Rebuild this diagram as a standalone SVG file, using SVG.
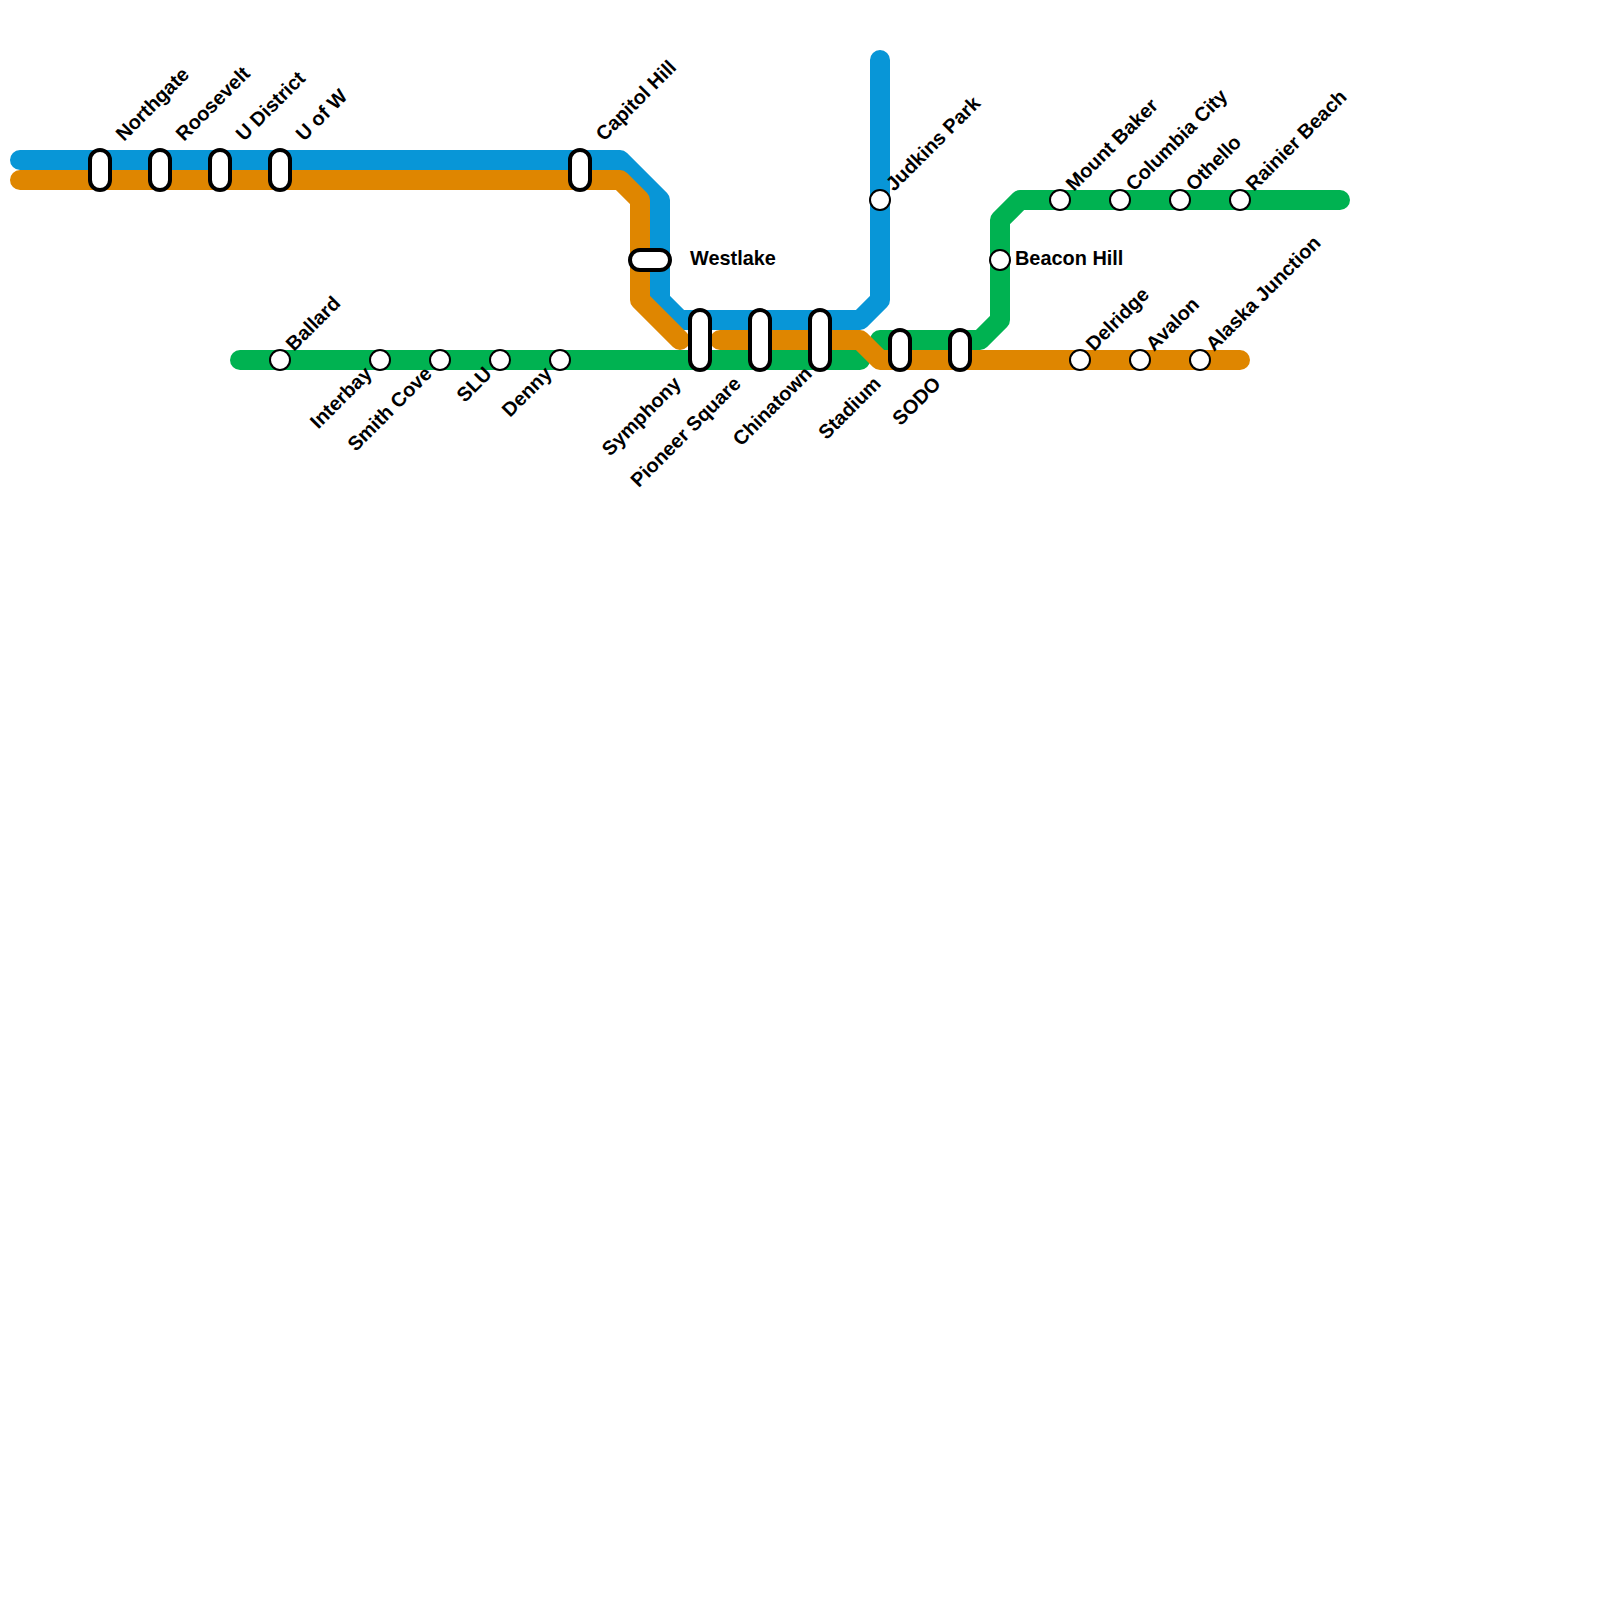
<svg xmlns="http://www.w3.org/2000/svg" width="1600" height="1600" viewBox="0 0 1600 1600">
<style>
.l{fill:none;stroke-width:20;stroke-linecap:round;stroke-linejoin:round}
.b{stroke:#0896d7}.o{stroke:#df8600}.g{stroke:#00b251}
.p{fill:#fff;stroke:#000;stroke-width:4}
.c{fill:#fff;stroke:#000;stroke-width:2}
text{font-family:"Liberation Sans",Arial,sans-serif;font-weight:700;font-size:19.9px;fill:#000}
.e{text-anchor:end}
</style>
<rect width="1600" height="1600" fill="#fff"/>
<g id="connectors">
<path class="l g" d="M240 360H860"/>
<path class="l g" d="M880 340H980L1000 320V220L1020 200H1340"/>
<path class="l b" d="M20 160H620L660 200V300L680 320H860L880 300V60"/>
<path class="l o" d="M20 180H620L640 200V300L680 340"/>
<path class="l o" d="M720 340H860L880 360H1240"/>
</g>
<g id="northgate"><rect class="p" x="90" y="150" width="20" height="40" rx="10"/><text transform="translate(124 142) rotate(-45)">Northgate</text></g>
<g id="roosevelt"><rect class="p" x="150" y="150" width="20" height="40" rx="10"/><text transform="translate(184 142) rotate(-45)">Roosevelt</text></g>
<g id="u-district"><rect class="p" x="210" y="150" width="20" height="40" rx="10"/><text transform="translate(244 142) rotate(-45)">U District</text></g>
<g id="u-of-w"><rect class="p" x="270" y="150" width="20" height="40" rx="10"/><text transform="translate(304 142) rotate(-45)">U of W</text></g>
<g id="capitol-hill"><rect class="p" x="570" y="150" width="20" height="40" rx="10"/><text transform="translate(604 142) rotate(-45)">Capitol Hill</text></g>
<g id="westlake"><rect class="p" x="630" y="250" width="40" height="20" rx="10"/><text x="690" y="265">Westlake</text></g>
<g id="symphony"><rect class="p" x="690" y="310" width="20" height="60" rx="10"/><text class="e" transform="translate(682 385) rotate(-45)">Symphony</text></g>
<g id="pioneer-square"><rect class="p" x="750" y="310" width="20" height="60" rx="10"/><text class="e" transform="translate(742 385) rotate(-45)">Pioneer Square</text></g>
<g id="chinatown"><rect class="p" x="810" y="310" width="20" height="60" rx="10"/><text class="e" transform="translate(813 375) rotate(-45)">Chinatown</text></g>
<g id="stadium"><rect class="p" x="890" y="330" width="20" height="40" rx="10"/><text class="e" transform="translate(882 385) rotate(-45)">Stadium</text></g>
<g id="sodo"><rect class="p" x="950" y="330" width="20" height="40" rx="10"/><text class="e" transform="translate(942 385) rotate(-45)">SODO</text></g>
<g id="judkins-park"><circle class="c" cx="880" cy="200" r="10"/><text transform="translate(894 192) rotate(-45)">Judkins Park</text></g>
<g id="beacon-hill"><circle class="c" cx="1000" cy="260" r="10"/><text x="1015" y="265">Beacon Hill</text></g>
<g id="mount-baker"><circle class="c" cx="1060" cy="200" r="10"/><text transform="translate(1074 192) rotate(-45)">Mount Baker</text></g>
<g id="columbia-city"><circle class="c" cx="1120" cy="200" r="10"/><text transform="translate(1134 192) rotate(-45)">Columbia City</text></g>
<g id="othello"><circle class="c" cx="1180" cy="200" r="10"/><text transform="translate(1194 192) rotate(-45)">Othello</text></g>
<g id="rainier-beach"><circle class="c" cx="1240" cy="200" r="10"/><text transform="translate(1254 192) rotate(-45)">Rainier Beach</text></g>
<g id="delridge"><circle class="c" cx="1080" cy="360" r="10"/><text transform="translate(1094 352) rotate(-45)">Delridge</text></g>
<g id="avalon"><circle class="c" cx="1140" cy="360" r="10"/><text transform="translate(1154 352) rotate(-45)">Avalon</text></g>
<g id="alaska-junction"><circle class="c" cx="1200" cy="360" r="10"/><text transform="translate(1214 352) rotate(-45)">Alaska Junction</text></g>
<g id="ballard"><circle class="c" cx="280" cy="360" r="10"/><text transform="translate(294 352) rotate(-45)">Ballard</text></g>
<g id="interbay"><circle class="c" cx="380" cy="360" r="10"/><text class="e" transform="translate(373 375) rotate(-45)">Interbay</text></g>
<g id="smith-cove"><circle class="c" cx="440" cy="360" r="10"/><text class="e" transform="translate(433 375) rotate(-45)">Smith Cove</text></g>
<g id="slu"><circle class="c" cx="500" cy="360" r="10"/><text class="e" transform="translate(493 375) rotate(-45)">SLU</text></g>
<g id="denny"><circle class="c" cx="560" cy="360" r="10"/><text class="e" transform="translate(553 375) rotate(-45)">Denny</text></g>
</svg>
